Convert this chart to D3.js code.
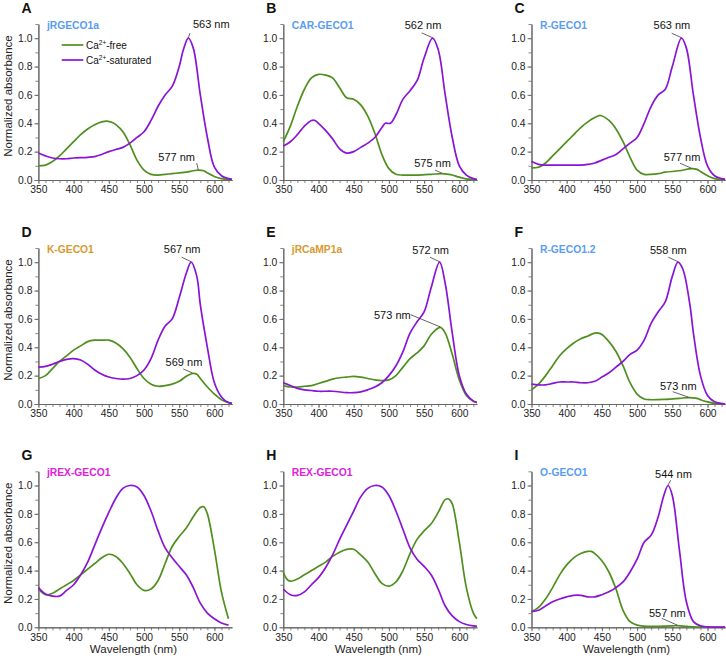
<!DOCTYPE html>
<html><head><meta charset="utf-8">
<script src="https://cdn.jsdelivr.net/npm/d3@7"></script>
<style>
body{margin:0;background:#fff}
svg{display:block}
text{font-family:"Liberation Sans",Arial,Helvetica,sans-serif}
</style>
</head><body>
<svg id="chart" width="726" height="662"></svg>
<script>
// ---------------- DATA ----------------
const panelLetters = ["A","B","C","D","E","F","G","H","I"];
const sensorNames = ["jRGECO1a","CAR-GECO1","R-GECO1","K-GECO1","jRCaMP1a","R-GECO1.2","jREX-GECO1","REX-GECO1","O-GECO1"];
const seriesNames = ["Ca-free","Ca-saturated"];
const xTickValues = [350,400,450,500,550,600];
const yTickValues = [0,0.2,0.4,0.6,0.8,1.0];
const xAxisTitle = "Wavelength (nm)";
const yAxisTitle = "Normalized absorbance";

// [wavelength nm, normalized absorbance]
const jRGECO1a_free = [[350,0.1],[360,0.105],[370,0.13],[380,0.17],[390,0.22],[400,0.27],[410,0.32],[420,0.36],[430,0.39],[440,0.41],[447,0.415],[455,0.405],[460,0.39],[470,0.34],[480,0.25],[490,0.14],[500,0.07],[510,0.04],[520,0.035],[530,0.04],[540,0.045],[550,0.05],[560,0.055],[570,0.065],[577,0.07],[585,0.065],[590,0.05],[600,0.025],[610,0.01],[620,0.003],[625,0.002]];
const jRGECO1a_sat = [[350,0.19],[360,0.17],[370,0.155],[380,0.15],[390,0.15],[400,0.155],[420,0.16],[430,0.165],[440,0.18],[450,0.2],[460,0.215],[470,0.23],[480,0.26],[490,0.3],[500,0.34],[510,0.42],[520,0.52],[530,0.6],[540,0.66],[550,0.8],[556,0.92],[563,1.0],[570,0.93],[580,0.6],[590,0.3],[600,0.09],[610,0.03],[620,0.01],[625,0.005]];

const CAR_GECO1_free = [[350,0.27],[360,0.38],[370,0.52],[380,0.64],[390,0.72],[400,0.745],[410,0.74],[420,0.72],[430,0.65],[440,0.58],[450,0.57],[460,0.53],[470,0.45],[480,0.33],[490,0.18],[500,0.08],[510,0.04],[520,0.035],[540,0.035],[560,0.04],[575,0.045],[585,0.04],[590,0.035],[600,0.02],[610,0.008],[620,0.003],[625,0.002]];
const CAR_GECO1_sat = [[350,0.24],[360,0.27],[370,0.32],[380,0.38],[390,0.42],[395,0.42],[400,0.4],[410,0.35],[420,0.29],[430,0.22],[440,0.19],[450,0.2],[460,0.23],[470,0.26],[480,0.3],[490,0.37],[495,0.4],[502,0.4],[510,0.46],[520,0.57],[530,0.63],[540,0.7],[550,0.86],[562,1.0],[570,0.92],[580,0.6],[590,0.3],[600,0.1],[610,0.035],[620,0.01],[625,0.005]];

const R_GECO1_free = [[350,0.085],[360,0.09],[370,0.12],[380,0.17],[390,0.22],[400,0.27],[410,0.32],[420,0.37],[430,0.41],[440,0.44],[448,0.455],[460,0.42],[470,0.36],[480,0.27],[490,0.16],[500,0.07],[510,0.04],[520,0.04],[530,0.045],[540,0.055],[560,0.065],[577,0.08],[585,0.075],[590,0.06],[600,0.03],[610,0.01],[620,0.003],[625,0.002]];
const R_GECO1_sat = [[350,0.13],[360,0.11],[370,0.105],[380,0.105],[400,0.105],[420,0.105],[430,0.11],[440,0.12],[450,0.14],[460,0.16],[470,0.18],[480,0.22],[490,0.26],[500,0.3],[510,0.4],[520,0.52],[530,0.6],[540,0.64],[550,0.8],[563,1.0],[570,0.93],[580,0.6],[590,0.3],[600,0.1],[610,0.03],[620,0.01],[625,0.005]];

const K_GECO1_free = [[350,0.18],[360,0.2],[370,0.25],[380,0.3],[390,0.34],[400,0.38],[410,0.41],[420,0.44],[430,0.45],[440,0.45],[450,0.45],[460,0.43],[470,0.39],[480,0.33],[490,0.25],[500,0.18],[510,0.14],[520,0.125],[530,0.13],[540,0.14],[550,0.16],[560,0.195],[569,0.215],[575,0.21],[580,0.18],[590,0.12],[600,0.07],[610,0.03],[620,0.01],[625,0.005]];
const K_GECO1_sat = [[350,0.26],[360,0.265],[370,0.28],[380,0.3],[390,0.315],[400,0.32],[410,0.31],[420,0.28],[430,0.24],[440,0.21],[450,0.19],[460,0.18],[470,0.175],[480,0.18],[490,0.2],[500,0.24],[510,0.32],[520,0.45],[530,0.55],[540,0.6],[550,0.75],[560,0.92],[567,1.0],[575,0.9],[580,0.7],[590,0.4],[600,0.15],[610,0.05],[620,0.01],[625,0.005]];

const jRCaMP1a_free = [[350,0.13],[360,0.12],[370,0.12],[380,0.125],[390,0.13],[400,0.145],[410,0.16],[420,0.175],[430,0.185],[440,0.19],[450,0.195],[460,0.19],[470,0.18],[480,0.17],[490,0.165],[500,0.17],[510,0.2],[520,0.26],[530,0.32],[540,0.36],[550,0.41],[560,0.49],[573,0.54],[580,0.5],[590,0.35],[600,0.17],[610,0.06],[620,0.02],[625,0.012]];
const jRCaMP1a_sat = [[350,0.15],[360,0.13],[370,0.11],[380,0.1],[390,0.095],[400,0.09],[420,0.09],[440,0.08],[450,0.08],[460,0.085],[470,0.1],[480,0.12],[490,0.15],[500,0.2],[510,0.27],[520,0.37],[530,0.5],[540,0.58],[550,0.65],[560,0.82],[572,1.0],[580,0.85],[590,0.5],[600,0.2],[610,0.07],[620,0.02],[625,0.01]];

const R_GECO1_2_free = [[350,0.1],[360,0.14],[370,0.2],[380,0.27],[390,0.34],[400,0.39],[410,0.43],[420,0.46],[430,0.48],[440,0.5],[445,0.5],[450,0.49],[460,0.44],[470,0.37],[480,0.27],[490,0.15],[500,0.07],[510,0.035],[520,0.03],[540,0.033],[560,0.04],[573,0.045],[585,0.04],[590,0.03],[600,0.015],[610,0.005],[620,0.002],[625,0.001]];
const R_GECO1_2_sat = [[350,0.14],[360,0.135],[370,0.135],[380,0.145],[390,0.155],[400,0.155],[410,0.155],[420,0.15],[430,0.15],[440,0.16],[450,0.19],[460,0.22],[470,0.26],[480,0.3],[490,0.35],[500,0.38],[510,0.45],[520,0.57],[530,0.65],[540,0.72],[550,0.9],[558,1.0],[565,0.95],[575,0.7],[580,0.5],[590,0.2],[600,0.06],[610,0.015],[620,0.003],[625,0.001]];

const jREX_GECO1_free = [[350,0.27],[360,0.23],[370,0.24],[380,0.27],[390,0.3],[400,0.33],[410,0.37],[420,0.41],[430,0.45],[440,0.49],[450,0.515],[460,0.5],[470,0.45],[480,0.38],[490,0.3],[500,0.26],[510,0.27],[520,0.33],[530,0.45],[540,0.57],[550,0.64],[560,0.7],[570,0.78],[580,0.845],[585,0.85],[590,0.8],[600,0.55],[610,0.25],[620,0.06]];
const jREX_GECO1_sat = [[350,0.28],[360,0.235],[370,0.22],[380,0.22],[390,0.26],[400,0.3],[410,0.37],[420,0.46],[430,0.58],[440,0.7],[450,0.81],[460,0.91],[470,0.98],[480,1.0],[490,0.99],[500,0.93],[510,0.82],[520,0.68],[530,0.56],[540,0.49],[550,0.43],[560,0.37],[570,0.28],[580,0.17],[590,0.1],[600,0.06],[610,0.03],[620,0.015]];

const REX_GECO1_free = [[350,0.39],[355,0.34],[360,0.325],[370,0.34],[380,0.37],[390,0.4],[400,0.43],[410,0.46],[420,0.5],[430,0.53],[440,0.55],[450,0.55],[460,0.51],[470,0.46],[480,0.38],[490,0.31],[500,0.29],[510,0.32],[520,0.4],[530,0.52],[540,0.62],[550,0.68],[560,0.73],[570,0.81],[580,0.9],[585,0.905],[590,0.87],[600,0.6],[610,0.28],[620,0.1],[625,0.06]];
const REX_GECO1_sat = [[350,0.27],[360,0.23],[370,0.225],[380,0.25],[390,0.3],[400,0.35],[410,0.42],[420,0.51],[430,0.62],[440,0.72],[450,0.82],[460,0.92],[470,0.98],[480,1.0],[490,0.99],[500,0.93],[510,0.82],[520,0.69],[530,0.56],[540,0.48],[550,0.43],[560,0.37],[570,0.27],[580,0.15],[590,0.08],[600,0.04],[610,0.02],[620,0.01],[625,0.008]];

const O_GECO1_free = [[350,0.11],[360,0.14],[370,0.2],[380,0.28],[390,0.37],[400,0.44],[410,0.49],[420,0.52],[430,0.535],[435,0.535],[440,0.52],[450,0.47],[460,0.39],[470,0.27],[480,0.12],[490,0.04],[500,0.015],[510,0.008],[530,0.007],[550,0.01],[557,0.012],[570,0.007],[580,0.003],[600,0.001],[625,0]];
const O_GECO1_sat = [[350,0.11],[360,0.12],[370,0.15],[380,0.18],[390,0.2],[400,0.215],[410,0.225],[420,0.225],[430,0.215],[440,0.215],[450,0.23],[460,0.25],[470,0.28],[480,0.32],[490,0.39],[500,0.48],[510,0.6],[520,0.65],[530,0.78],[538,0.93],[544,1.0],[550,0.93],[560,0.55],[570,0.18],[580,0.04],[590,0.01],[600,0.003],[625,0.001]];

const freeSeries = [jRGECO1a_free,CAR_GECO1_free,R_GECO1_free,K_GECO1_free,jRCaMP1a_free,R_GECO1_2_free,jREX_GECO1_free,REX_GECO1_free,O_GECO1_free];
const satSeries  = [jRGECO1a_sat,CAR_GECO1_sat,R_GECO1_sat,K_GECO1_sat,jRCaMP1a_sat,R_GECO1_2_sat,jREX_GECO1_sat,REX_GECO1_sat,O_GECO1_sat];

// peak annotations: panel index, series, wavelength
const peakPanels = [0,0,1,1,2,2,3,3,4,4,5,5,8,8];
const peakSeries = ["sat","free","sat","free","sat","free","sat","free","sat","free","sat","free","sat","free"];
const peakNm     = [563,577,562,575,563,577,567,569,572,573,558,573,544,557];

// ---------------- STYLE / LAYOUT ----------------
const titleColors = ["#5b9cf2","#5b9cf2","#5b9cf2","#d69a2e","#d69a2e","#5b9cf2","#dc22dc","#dc22dc","#5b9cf2"];
const colorFree = "#4e8f1e", colorSat = "#8a14d6";
const colX = [38.4, 283.3, 531.5];   // x pixel of 350 nm
const rowY = [180, 404, 627.3];      // y pixel of 0.0
const plotW = 193.6, unitH = 141.8;
// label placement relative to peak point: text dx, dy, anchor, leader start dx, dy
const peakLabelPos = [
  [4.6,-10.3,"start",1.6,-5],
  [-3.2,-9.4,"end",-1.5,-7],
  [-9.5,-9,"middle",-10.8,-5.3],
  [-9.2,-6.9,"middle",-6.7,-3.6],
  [-9.5,-9,"middle",-9.8,-5],
  [-9.3,-8,"middle",-11.3,-5.4],
  [-9,-9.4,"middle",-9.5,-5],
  [-8.6,-7.8,"middle",-9.3,-4.5],
  [-8.9,-8.4,"middle",-9.6,-5],
  [-29.6,-8.7,"end",-29.6,-12.7],
  [-9.6,-8.4,"middle",-9.6,-5],
  [-10.2,-7.6,"middle",-15.8,-5.9],
  [5.4,-8,"middle",2.6,-5.3],
  [-9.9,-8.9,"middle",-15.5,-7.3]
];

const svg = d3.select("#chart");
const scales = [];

panelLetters.forEach((letter, i) => {
  const col = i % 3, row = Math.floor(i / 3);
  const x0 = colX[col], y0 = rowY[row];
  const x = d3.scaleLinear().domain([350,625]).range([x0, x0 + plotW]);
  const y = d3.scaleLinear().domain([0,1.1]).range([y0, y0 - 1.1*unitH]);
  scales.push({x, y});
  const g = svg.append("g");

  const xMinor = g.append("g").attr("transform",`translate(0,${y0})`)
    .call(d3.axisBottom(x).tickValues(d3.range(350,626,10)).tickSize(3).tickFormat("").tickSizeOuter(0));
  const xMajor = g.append("g").attr("transform",`translate(0,${y0})`)
    .call(d3.axisBottom(x).tickValues(xTickValues).tickSize(4).tickPadding(2).tickSizeOuter(0));
  const yMinor = g.append("g").attr("transform",`translate(${x0},0)`)
    .call(d3.axisLeft(y).tickValues(d3.range(0,11).map(v=>v/10).concat([1.1])).tickSize(3).tickFormat("").tickSizeOuter(0));
  const yMajor = g.append("g").attr("transform",`translate(${x0},0)`)
    .call(d3.axisLeft(y).tickValues(yTickValues).tickSize(4).tickPadding(2).tickFormat(d3.format(".1f")).tickSizeOuter(0));
  [xMinor,xMajor,yMinor,yMajor].forEach(a=>{
    a.selectAll(".domain").attr("stroke","#666").attr("stroke-width",1);
    a.selectAll(".tick line").attr("stroke","#666").attr("stroke-width",0.8);
    a.selectAll("text").attr("fill","#222").style("font-size","10.3px").style("font-family",'"Liberation Sans",Arial,sans-serif');
  });

  const line = d3.line().x(d=>x(d[0])).y(d=>y(d[1])).curve(d3.curveCatmullRom.alpha(0.5));
  g.append("path").datum(freeSeries[i]).attr("d",line).attr("fill","none")
    .attr("stroke",colorFree).attr("stroke-width",1.7).attr("stroke-linejoin","round");
  g.append("path").datum(satSeries[i]).attr("d",line).attr("fill","none")
    .attr("stroke",colorSat).attr("stroke-width",1.7).attr("stroke-linejoin","round");

  svg.append("text").attr("x", x0 - 17).attr("y", y0 - 167.5)
    .attr("font-size","14px").attr("font-weight","bold").attr("fill","#111").text(letter);
  svg.append("text").attr("x", x0 + 8.5).attr("y", y0 - 151)
    .attr("font-size","10.3px").attr("font-weight","bold").attr("fill",titleColors[i]).text(sensorNames[i]);

  if (col === 0) {
    svg.append("text").attr("transform",`translate(11.7,${y0 - 84}) rotate(-90)`)
      .attr("text-anchor","middle").attr("font-size","11.5px").attr("fill","#222").text(yAxisTitle);
  }
  if (row === 2) {
    svg.append("text").attr("x", x(485)).attr("y", y0 + 26)
      .attr("text-anchor","middle").attr("font-size","11.5px").attr("fill","#222").text(xAxisTitle);
  }
});

peakPanels.forEach((p, k) => {
  const {x, y} = scales[p];
  const data = peakSeries[k] === "sat" ? satSeries[p] : freeSeries[p];
  const pt = data.find(d => d[0] === peakNm[k]);
  const px = x(pt[0]), py = y(pt[1]);
  const [tdx, tdy, anchor, ldx, ldy] = peakLabelPos[k];
  svg.append("line").attr("x1", px + ldx).attr("y1", py + ldy).attr("x2", px).attr("y2", py - 0.5)
    .attr("stroke","#222").attr("stroke-width",0.7);
  svg.append("text").attr("x", px + tdx).attr("y", py + tdy).attr("text-anchor", anchor)
    .attr("font-size","11px").attr("fill","#111").text(peakNm[k] + " nm");
});

const lg = svg.append("g");
[["free",colorFree,45],["-saturated",colorSat,60]].forEach(([suffix,c,yy])=>{
  lg.append("line").attr("x1",61.7).attr("x2",83.3).attr("y1",yy).attr("y2",yy)
    .attr("stroke",c).attr("stroke-width",1.7);
  const t = lg.append("text").attr("x",86).attr("y",yy+3.5).attr("font-size","10px").attr("fill","#111");
  t.append("tspan").text("Ca");
  t.append("tspan").attr("dy",-4).attr("font-size","6.5px").text("2+");
  t.append("tspan").attr("dy",4).text(suffix === "free" ? "-free" : "-saturated");
});
</script>
</body></html>
